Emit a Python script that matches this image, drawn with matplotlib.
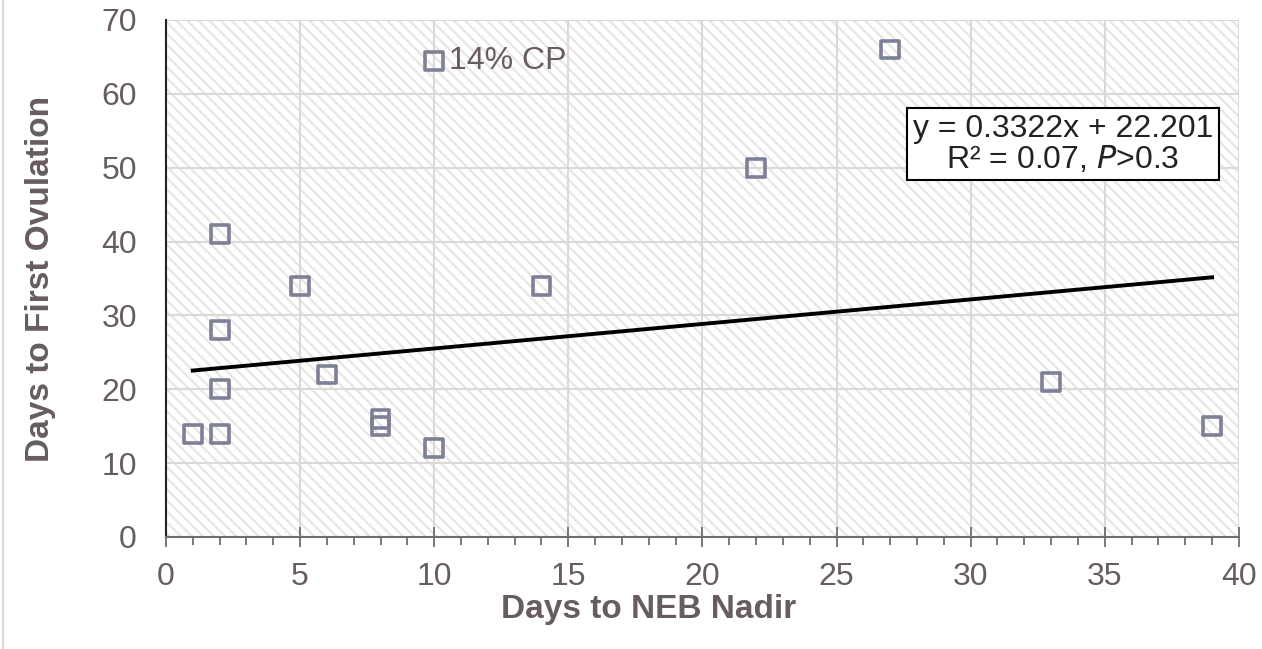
import matplotlib
matplotlib.use("Agg")
import matplotlib.pyplot as plt
from matplotlib.patches import Rectangle
from matplotlib.ticker import MultipleLocator
import numpy as np

plt.rcParams['font.family'] = ['Liberation Sans', 'DejaVu Sans']
plt.rcParams['hatch.linewidth'] = 1.6

# data
days_nadir = [1, 2, 2, 2, 2, 5, 6, 8, 8, 10, 10, 14, 22, 27, 33, 39]
days_ovul = [14, 14, 20, 28, 41, 34, 22, 15, 16, 12, 64.5, 34, 50, 66, 21, 15]
slope = 0.3322
intercept = 22.201
label_pt = (10, 64.5)

txt = '#675c5e'
fig = plt.figure(figsize=(12.62, 6.49), dpi=100)
ax = fig.add_axes([0.1315, 0.1726, 0.8502, 0.7966])

# hatched plot area
ax.add_patch(Rectangle((0, 0), 1, 1, transform=ax.transAxes, facecolor='white',
                       edgecolor='#e8e5e5', hatch='\\\\\\', lw=0, zorder=0))

ax.set_xlim(0, 40)
ax.set_ylim(0, 70)
ax.xaxis.set_major_locator(MultipleLocator(5))
ax.xaxis.set_minor_locator(MultipleLocator(1))
ax.yaxis.set_major_locator(MultipleLocator(10))
ax.grid(True, which='major', color='#dcd8d8', lw=1.5, zorder=1)
ax.set_axisbelow(True)

for s in ['top', 'right']:
    ax.spines[s].set_visible(False)
ax.spines['left'].set_color('#222222')
ax.spines['left'].set_linewidth(1.5)
ax.spines['bottom'].set_color('#6e6e6e')
ax.spines['bottom'].set_linewidth(1.5)

ax.tick_params(axis='x', which='major', direction='inout', length=14, width=1.3,
               color='#6e6e6e', labelsize=23, labelcolor=txt, pad=11)
ax.tick_params(axis='x', which='minor', direction='out', length=6, width=1.3,
               color='#6e6e6e')
ax.tick_params(axis='y', length=0, labelsize=23, labelcolor=txt, pad=21)

ax.scatter(days_nadir, days_ovul, marker='s', s=165, facecolors='none',
           edgecolors='#7e8098', linewidths=2.6, zorder=3)

xs = np.array([min(days_nadir), max(days_nadir)])
ax.plot(xs, slope * xs + intercept, color='black', lw=2.8, zorder=4)

ax.annotate('14% CP', xy=label_pt, xytext=(11, 0), textcoords='offset points',
            fontsize=23, color=txt, va='center', ha='left')

ax.text(0.836, 0.760, 'y = 0.3322x + 22.201\nR² = 0.07, $\\it{P}$>0.3',
        transform=ax.transAxes, ha='center', va='center', fontsize=23,
        color='#222222', linespacing=1.0,
        bbox=dict(boxstyle='square,pad=0.18', facecolor='white', edgecolor='black', lw=1.5))

ax.set_xlabel('Days to NEB Nadir', fontsize=24, fontweight='bold', color=txt, va='center')
ax.set_ylabel('Days to First Ovulation', fontsize=24, fontweight='bold', color=txt, va='center')
ax.xaxis.set_label_coords(0.45, -0.141)
ax.yaxis.set_label_coords(-0.117, 0.5)

fig.add_artist(plt.Line2D([0.002, 0.002], [0, 1], transform=fig.transFigure,
                          color='#d9d9d9', lw=1.5))

fig.savefig('out.png', dpi=100)
